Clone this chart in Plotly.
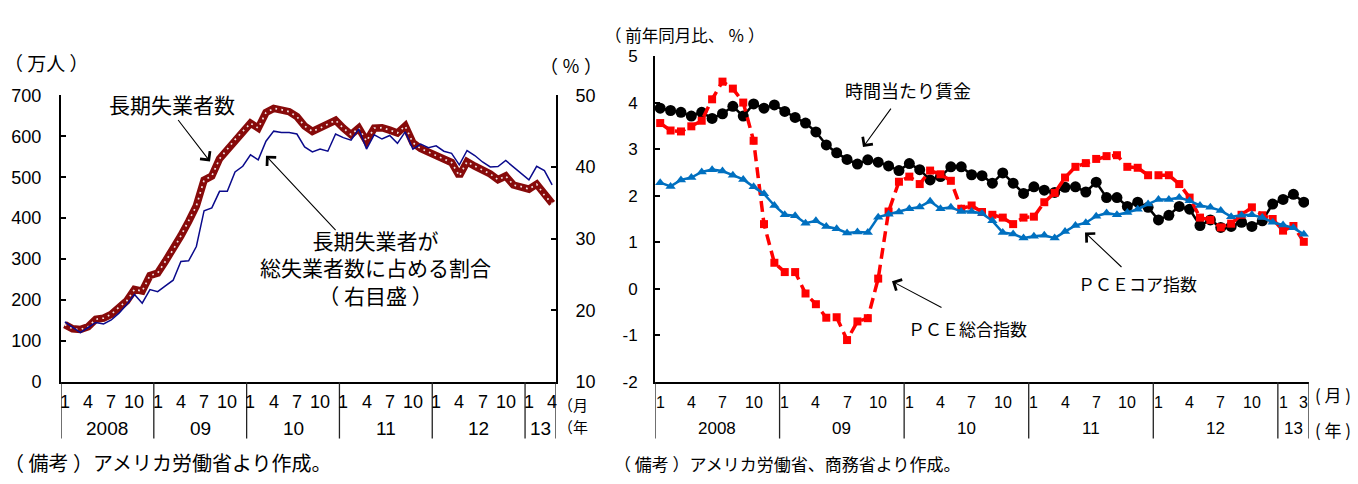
import plotly.graph_objects as go

W, H = 1358, 484

# 長期失業者数（万人）, 2008年1月〜2013年4月
long_term_unemployed = [140, 130, 128, 135, 153, 156, 165, 183, 198, 226,
                        222, 260, 266, 295, 323, 357, 392, 430, 493, 503,
                        545, 568, 592, 612, 632, 620, 658, 668, 665, 660,
                        648, 625, 612, 620, 630, 639, 620, 604, 620, 588,
                        620, 621, 615, 608, 625, 584, 570, 562, 553, 545,
                        536, 503, 538, 527, 518, 508, 494, 503, 481, 477,
                        471, 483, 456, 436]

# 長期失業者が総失業者数に占める割合（％）
long_term_share = [18.4, 17.6, 16.9, 17.6, 18.3, 18.1, 18.65, 19.6, 20.8, 22.2,
                   21.0, 22.9, 22.6, 23.4, 24.2, 26.8, 26.9, 28.9, 33.9, 34.3,
                   36.6, 36.6, 39.3, 40.1, 41.7, 41.0, 43.6, 45.0, 44.8, 44.8,
                   44.6, 42.8, 42.1, 42.5, 42.2, 44.6, 44.1, 43.75, 45.3, 42.5,
                   44.5, 43.9, 44.4, 43.3, 44.9, 42.5, 43.2, 42.7, 42.95, 42.2,
                   41.9, 40.3, 42.3, 41.6, 40.7, 40.0, 40.05, 40.9, 40.0, 39.2,
                   38.2, 40.1, 39.5, 37.5]

# 前年同月比（％）, 2008年1月〜2013年3月
hourly_wage = [3.88, 3.83, 3.79, 3.71, 3.79, 3.66, 3.76, 3.92, 3.71, 3.97,
               3.88, 3.95, 3.81, 3.68, 3.56, 3.37, 3.09, 2.92, 2.78, 2.68,
               2.77, 2.72, 2.64, 2.54, 2.69, 2.56, 2.34, 2.41, 2.62, 2.62,
               2.45, 2.43, 2.27, 2.49, 2.27, 2.05, 2.19, 2.12, 2.07, 2.18,
               2.19, 2.08, 2.29, 1.96, 1.96, 1.77, 1.86, 1.75, 1.48, 1.58,
               1.77, 1.71, 1.36, 1.48, 1.32, 1.34, 1.43, 1.34, 1.46, 1.82,
               1.92, 2.03, 1.86]

pce_total = [3.56, 3.40, 3.38, 3.49, 3.61, 4.07, 4.45, 4.30, 4.00, 3.18,
             1.39, 0.56, 0.36, 0.36, -0.10, -0.33, -0.62, -0.61, -1.10, -0.70,
             -0.63, 0.22, 1.66, 2.30, 2.41, 2.25, 2.54, 2.46, 2.32, 1.72,
             1.79, 1.65, 1.59, 1.53, 1.39, 1.53, 1.55, 1.86, 2.06, 2.39,
             2.62, 2.70, 2.79, 2.85, 2.87, 2.62, 2.60, 2.44, 2.44, 2.44,
             2.25, 1.96, 1.53, 1.48, 1.32, 1.40, 1.59, 1.75, 1.58, 1.50,
             1.25, 1.35, 1.01]

pce_core = [2.28, 2.20, 2.34, 2.39, 2.51, 2.56, 2.53, 2.44, 2.35, 2.19,
            2.04, 1.79, 1.59, 1.57, 1.41, 1.46, 1.34, 1.29, 1.20, 1.22,
            1.21, 1.54, 1.60, 1.65, 1.72, 1.76, 1.88, 1.72, 1.75, 1.66,
            1.66, 1.62, 1.46, 1.21, 1.18, 1.09, 1.13, 1.15, 1.09, 1.23,
            1.36, 1.42, 1.56, 1.63, 1.59, 1.64, 1.71, 1.82, 1.92, 1.92,
            1.96, 1.89, 1.79, 1.75, 1.68, 1.55, 1.58, 1.59, 1.53, 1.43,
            1.37, 1.31, 1.17]

# month tick labels per year (labelled months), and year labels
left_months = [[1, 4, 7, 10], [1, 4, 7, 10], [1, 4, 7, 10],
               [1, 4, 7, 10], [1, 4, 7, 10], [1, 4]]
right_months = [[1, 4, 7, 10], [1, 4, 7, 10], [1, 4, 7, 10],
                [1, 4, 7, 10], [1, 4, 7, 10], [1, 3]]
years_left = ["2008", "09", "10", "11", "12", "13"]
years_right = ["2008", "09", "10", "11", "12", "13"]

left_y_ticks = [0, 100, 200, 300, 400, 500, 600, 700]
right_y_ticks = [10, 20, 30, 40, 50]
pce_y_ticks = [-2, -1, 0, 1, 2, 3, 4, 5]
pce_y_text = ["-2", "-1", "0", "1", "2", "3", "4", "5"]

NUM = "Liberation Sans, Arial, sans-serif"
JP = "Noto Sans CJK JP, sans-serif"


def px(x):
    return x / W


def py(y):
    return 1 - y / H


fig = go.Figure()

xl = list(range(len(long_term_unemployed)))
xr = list(range(len(hourly_wage)))

# left panel: long-term unemployed (thick dotted band) and share (thin navy)
fig.add_trace(go.Scatter(x=xl, y=long_term_unemployed, mode="lines",
                         line=dict(color="#870A0A", width=7.5),
                         xaxis="x", yaxis="y", hoverinfo="skip"))
fig.add_trace(go.Scatter(x=xl, y=long_term_unemployed, mode="lines",
                         line=dict(color="#F2E6E6", width=1.7, dash="1.7px,4.3px"),
                         xaxis="x", yaxis="y", hoverinfo="skip"))
fig.add_trace(go.Scatter(x=xl, y=long_term_share, mode="lines",
                         line=dict(color="#0A0A8C", width=1.5),
                         xaxis="x", yaxis="y2", hoverinfo="skip"))

# right panel: wages, PCE total, PCE core
fig.add_trace(go.Scatter(x=xr, y=hourly_wage, mode="lines+markers",
                         line=dict(color="black", width=2.5),
                         marker=dict(symbol="circle", size=11, color="black"),
                         xaxis="x2", yaxis="y3"))
fig.add_trace(go.Scatter(x=xr, y=pce_total, mode="lines+markers",
                         line=dict(color="#FF0000", width=3.5, dash="11px,6px"),
                         marker=dict(symbol="square", size=8, color="#FF0000"),
                         xaxis="x2", yaxis="y3"))
fig.add_trace(go.Scatter(x=xr, y=pce_core, mode="lines+markers",
                         line=dict(color="#0070C0", width=2.5),
                         marker=dict(symbol="triangle-up", size=9, color="#0070C0"),
                         xaxis="x2", yaxis="y3"))

axis_common = dict(showgrid=False, zeroline=False, linecolor="black",
                   linewidth=2, showline=True)

fig.update_layout(
    width=W, height=H, autosize=False,
    margin=dict(l=0, r=0, t=0, b=0),
    paper_bgcolor="white", plot_bgcolor="white",
    showlegend=False,
    xaxis=dict(domain=[px(61), px(556)], range=[-0.5, len(xl) - 0.5],
               showticklabels=False, ticks="", anchor="y", **axis_common),
    yaxis=dict(domain=[py(388), py(89)], range=[0, 700], tickvals=left_y_ticks,
               ticks="inside", ticklen=5, tickwidth=1.5, tickcolor="black",
               ticklabelstandoff=14, anchor="x",
               tickfont=dict(family=NUM, size=18, color="black"), **axis_common),
    yaxis2=dict(overlaying="y", side="right", anchor="x", range=[10, 50],
                tickvals=right_y_ticks, ticks="inside", ticklen=5, tickwidth=1.5,
                tickcolor="black", ticklabelstandoff=14,
                tickfont=dict(family=NUM, size=18, color="black"), **axis_common),
    xaxis2=dict(domain=[px(655), px(1309)], range=[-0.5, len(xr) - 0.5],
                showticklabels=False, ticks="", anchor="y3", **axis_common),
    yaxis3=dict(domain=[py(388), py(48)], range=[-2, 5], tickvals=pce_y_ticks,
                ticktext=pce_y_text,
                ticks="inside", ticklen=5, tickwidth=1.5, tickcolor="black",
                ticklabelstandoff=12, anchor="x2",
                tickfont=dict(family=NUM, size=17, color="black"), **axis_common),
)

shapes = []
annotations = []


def category_axis(xref, n_points, years, months, month_size, year_size):
    bounds = [-0.5] + [12 * k + 11.5 for k in range((n_points - 1) // 12)] + [n_points - 0.5]
    for b in bounds:
        shapes.append(dict(type="line", xref=xref, yref="paper", x0=b, x1=b,
                           y0=py(388), y1=py(447),
                           line=dict(color="#222222", width=1.3)))
    for k, ms in enumerate(months):
        for m in ms:
            annotations.append(dict(xref=xref, yref="paper", x=12 * k + m - 1, y=py(409),
                                    text=str(m), showarrow=False,
                                    xanchor="center", yanchor="middle",
                                    font=dict(family=NUM, size=month_size, color="black")))
    for k, lab in enumerate(years):
        x0 = bounds[k]
        x1 = bounds[k + 1]
        annotations.append(dict(xref=xref, yref="paper", x=(x0 + x1) / 2, y=py(437),
                                text=lab, showarrow=False, xanchor="center",
                                yanchor="middle",
                                font=dict(family=NUM, size=year_size, color="black")))


category_axis("x", len(xl), years_left, left_months, 18, 19)
category_axis("x2", len(xr), years_right, right_months, 16, 17)


def text(x, y, s, size, anchor="left", family=JP):
    annotations.append(dict(xref="paper", yref="paper", x=px(x), y=py(y), text=s,
                            showarrow=False, xanchor=anchor, yanchor="middle",
                            align="center",
                            font=dict(family=family, size=size, color="black")))


def arrow(tail, head):
    annotations.append(dict(xref="paper", yref="paper", x=px(head[0]), y=py(head[1]),
                            ax=tail[0] - head[0], ay=tail[1] - head[1],
                            text="", showarrow=True, arrowhead=4, arrowsize=2.2,
                            arrowwidth=1.1, arrowcolor="black"))


# left panel texts
text(2, 55, "（ 万人 ）", 19)
text(538, 57, "（ ％ ）", 18)
text(172, 98, "長期失業者数", 21, "center")
arrow((177, 115), (210, 158))
text(375, 269, "長期失業者が<br>総失業者数に占める割合<br>（ 右目盛 ）", 21, "center")
arrow((337, 228), (266, 152))
text(556, 412, "（月", 15)
text(556, 434, "（年", 15)
text(2, 472, "（ 備考 ）アメリカ労働省より作成。", 20)

# right panel texts
text(603, 26, "（ 前年同月比、 ％ ）", 16.5)
text(843, 83, "時間当たり賃金", 18)
arrow((892, 103), (863, 143))
text(906, 332, "ＰＣＥ総合指数", 17)
arrow((943, 310), (892, 283))
text(1076, 285, "ＰＣＥコア指数", 17)
arrow((1123, 268), (1085, 232))
text(1333, 401, "( 月 )", 17, "center")
text(1333, 438, "( 年 )", 17, "center")
text(612, 473, "（ 備考 ）アメリカ労働省、商務省より作成。", 17)

fig.update_layout(shapes=shapes, annotations=annotations)

fig.write_html("out.html")
